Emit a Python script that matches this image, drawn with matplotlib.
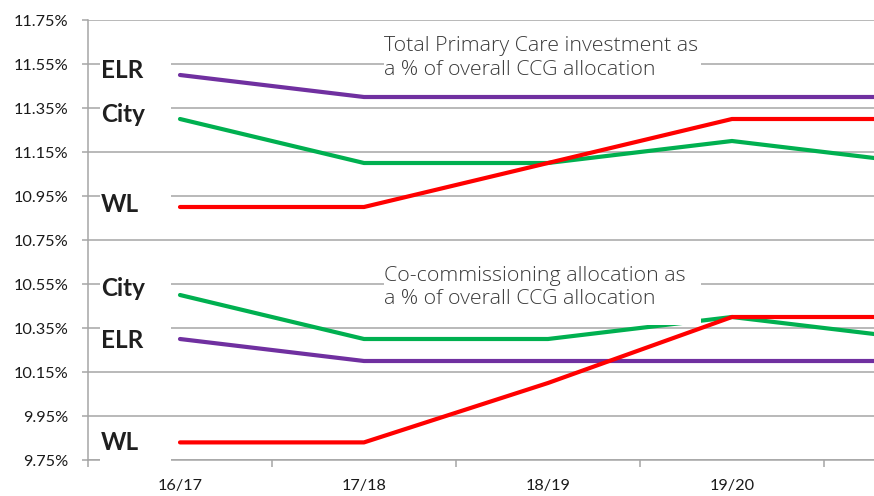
import numpy as np
import matplotlib
matplotlib.use("Agg")
import matplotlib.pyplot as plt
from matplotlib.patches import Rectangle

# ---- data ----
years = ["16/17", "17/18", "18/19", "19/20", "20/21"]
tick_labels = ["16/17", "17/18", "18/19", "19/20", ""]

total_elr = [11.50, 11.40, 11.40, 11.40, 11.40]
total_city = [11.30, 11.10, 11.10, 11.20, 11.10]
total_wl = [10.90, 10.90, 11.10, 11.30, 11.30]

cocom_city = [10.50, 10.30, 10.30, 10.40, 10.30]
cocom_elr = [10.30, 10.20, 10.20, 10.20, 10.20]
cocom_wl = [9.83, 9.83, 10.10, 10.40, 10.40]

y_ticks = [9.75, 9.95, 10.15, 10.35, 10.55, 10.75, 10.95, 11.15, 11.35, 11.55, 11.75]

title_upper = "Total Primary Care investment as\na % of overall CCG allocation"
title_lower = "Co-commissioning allocation as\na % of overall CCG allocation"

PURPLE = "#7030A0"
GREEN = "#00B050"
RED = "#FF0000"
GRID = "#A6A6A6"

fig = plt.figure(figsize=(8.74, 4.96), dpi=100)
ax = fig.add_axes([88/874, 36/496, 1 - 88/874, 440/496])

x = np.arange(len(years))
for vals, c in [(total_elr, PURPLE), (total_city, GREEN), (total_wl, RED),
                (cocom_city, GREEN), (cocom_elr, PURPLE), (cocom_wl, RED)]:
    ax.plot(x, vals, color=c, lw=3.0, solid_capstyle="round", zorder=3)

ax.set_yticks(y_ticks)
ax.set_yticklabels([f"{v:.2f}%" for v in y_ticks])
ax.set_xticks(x)
ax.set_xticklabels(tick_labels)
ax.set_xticks(np.arange(-0.5, 4, 1), minor=True)
ax.set_xlim(-0.5, 3.772)
ax.set_ylim(9.75, 11.75)

ax.grid(axis="y", color=GRID, lw=1.1)
ax.set_axisbelow(True)
for s in ["top", "right"]:
    ax.spines[s].set_visible(False)
for s in ["left", "bottom"]:
    ax.spines[s].set_color(GRID)
    ax.spines[s].set_linewidth(1.1)
    ax.spines[s].set_zorder(1)

ax.tick_params(axis="y", which="major", length=4, width=1.1, color=GRID, pad=10,
               labelsize=11.7, labelcolor="#1a1a1a")
ax.tick_params(axis="x", which="major", length=0, pad=14, labelsize=11.7, labelcolor="#1a1a1a")
ax.tick_params(axis="x", which="minor", length=5, width=1.1, color=GRID, direction="out")
for lab in ax.get_yticklabels() + ax.get_xticklabels():
    lab.set_fontfamily("Lato")

# white boxes behind the series labels
label_boxes = [(11.441, 11.605), (11.259, 11.395), (10.85, 10.995),
               (10.468, 10.605), (10.241, 10.386), (9.70, 9.909)]
for y0, y1 in label_boxes:
    ax.add_patch(Rectangle((-0.435, y0), 0.386, y1 - y0, facecolor="white",
                           edgecolor="none", zorder=2, clip_on=False))

series_labels = [("ELR", 11.486), ("City", 11.286), ("WL", 10.877),
                 ("City", 10.495), ("ELR", 10.259), ("WL", 9.795)]
for txt, yb in series_labels:
    ax.text(-0.429, yb, txt, fontsize=17.5, fontweight="bold", family="Lato",
            color="#1f1f1f", va="baseline", ha="left", zorder=5)

# title boxes
ax.add_patch(Rectangle((1.109, 11.432), 1.723, 11.705 - 11.432, facecolor="white",
                       edgecolor="none", zorder=4))
ax.add_patch(Rectangle((1.109, 10.362), 1.723, 10.65 - 10.362, facecolor="white",
                       edgecolor="none", zorder=4))
ax.text(1.109, 11.677, title_upper, fontsize=15.4, family="Open Sans", fontweight="light",
        color="#3a3a3a", va="top", ha="left", linespacing=1.26, zorder=5)
ax.text(1.109, 10.634, title_lower, fontsize=15.4, family="Open Sans", fontweight="light",
        color="#3a3a3a", va="top", ha="left", linespacing=1.26, zorder=5)

fig.savefig("out.png", dpi=100)
